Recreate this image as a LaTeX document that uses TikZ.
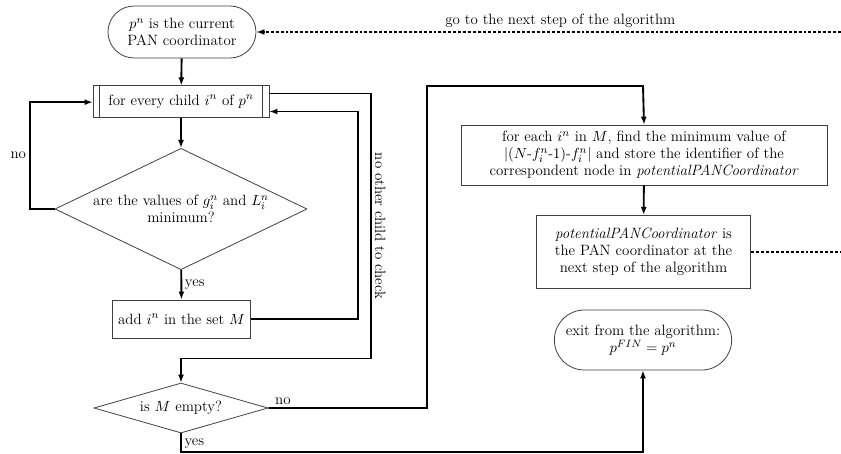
\documentclass[tikz,border=0pt]{standalone}
\usepackage{tikz}
\usetikzlibrary{shapes, arrows.meta, positioning, calc}
\newcommand{\flowfont}{\fontsize{11.2}{12.8}\selectfont}

\begin{document}
\begin{tikzpicture}[x=0.75pt, y=-0.75pt,
    % Node styles
    terminal/.style={rounded rectangle, draw=black!75, line width=0.6pt, align=center, font=\flowfont, inner sep=1pt},
    process/.style={rectangle, draw=black!75, line width=0.6pt, align=center, font=\flowfont, inner sep=2pt},
    decision/.style={diamond, draw=black!75, line width=0.6pt, align=center, font=\flowfont, inner sep=0pt, aspect=2.5},
    arrow/.style={-{Latex[length=6pt, width=4.5pt]}, line width=1.4pt},
    link/.style={line width=1.4pt},
    dasharrow/.style={-{Latex[length=6pt, width=4.5pt]}, line width=1.1pt, dash pattern=on 2.2pt off 1.5pt},
    dashlink/.style={line width=1.1pt, dash pattern=on 2.2pt off 1.5pt},
    txt/.style={font=\flowfont, inner sep=2pt},
]
\useasboundingbox (0,0) rectangle (841,453);

% === LEFT: loop over the children ===
\node[terminal, minimum width=113pt, minimum height=39pt] (start) at (182,32) {$p^n$ is the current\\PAN coordinator};
\node[process, minimum width=132pt, minimum height=23.5pt] (loop) at (181,101.5) {for every child $i^n$ of $p^n$};
\draw[line width=0.6pt, black!75] ([xshift=5pt]loop.north west) -- ([xshift=5pt]loop.south west);
\draw[line width=0.6pt, black!75] ([xshift=-5pt]loop.north east) -- ([xshift=-5pt]loop.south east);
\node[decision, minimum width=189pt, minimum height=91pt, inner xsep=-30pt, inner ysep=-4pt] (minval) at (181,209) {are the values of $g_i^n$ and $L_i^n$\\minimum?};
\node[process, minimum width=104pt, minimum height=28.5pt] (addset) at (181.5,319) {add $i^n$ in the set $M$};
\node[decision, minimum width=130.5pt, minimum height=37.5pt] (empty) at (181,408) {is $M$ empty?};

% === RIGHT: choice of the next coordinator ===
\node[process, minimum width=274.5pt, minimum height=45pt] (findmin) at (644,155) {for each $i^n$ in $M$, find the minimum value of\\$|(N\mbox{-}f_i^n\mbox{-}1)\mbox{-}f_i^n|$ and store the identifier of the\\correspondent node in \textit{potentialPANCoordinator}};
\node[process, minimum width=161pt, minimum height=55pt] (nextpan) at (643.5,252) {\textit{potentialPANCoordinator} is\\the PAN coordinator at the\\next step of the algorithm};
\node[terminal, minimum width=135pt, minimum height=45pt] (exit) at (643,340) {exit from the algorithm:\\$p^{FIN} = p^n$};

% free ends of the dashed lines
\coordinate (backin) at (841,32);
\coordinate (backout) at (841,252);

% === Arrows ===
\draw[arrow] (start) -- (loop);
\draw[arrow] (loop) -- (minval);
\draw[arrow] (minval.west) -- ++(-25,0) |- node[txt, pos=0.25, left] {no} ([yshift=-0.5pt]loop.west);
\draw[arrow] (minval) -- node[txt, right] {yes} (addset);
\draw[arrow] (addset.east) -- ++(107,0) |- ([yshift=-7.5pt]loop.east);
\draw[arrow] ([yshift=6pt]loop.east) -- ++(102,0) -- node[txt, rotate=-90, anchor=south] {no other child to check} ++(0,265) -| (empty.north);
\draw[arrow] (empty.east) -- node[txt, pos=0.02, anchor=south west] {no} (427,408) |- (643,86) -- (findmin.north);
\draw[arrow] (empty.south) -- node[txt, midway, right, yshift=-1pt] {yes} ++(0,18.5) -| (exit.south);
\draw[arrow] (findmin) -- (nextpan);

% Dashed return to the start
\draw[dashlink] (nextpan.east) -- (backout);
\draw[dasharrow] (backin) -- node[txt, pos=0.48, above, yshift=1pt] {go to the next step of the algorithm} (start.east);

\end{tikzpicture}
\end{document}
